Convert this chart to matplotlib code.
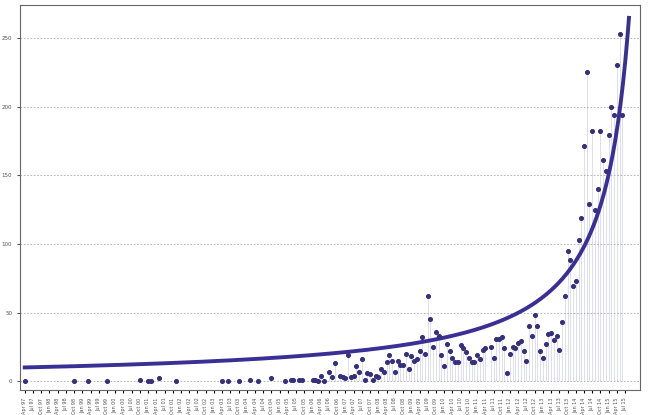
import numpy as np
import matplotlib.pyplot as plt

# month index (0 = Apr 97) and monthly count
months = [0, 18, 23, 30, 42, 45, 46, 49, 55, 72, 74, 78, 82, 85, 90,
          95, 97, 98, 100, 101, 105, 106, 107, 108, 109, 111, 112, 113, 115, 116, 117, 118,
          119, 120, 121, 122, 123, 124, 125, 126, 127, 128, 129, 130, 131, 132, 133, 134, 135,
          136, 137, 138, 139, 140, 141, 142, 143, 144, 145, 146, 147, 148, 149, 150, 151, 152,
          153, 154, 155, 156, 157, 158, 159, 160, 161, 162, 163, 164, 165, 166,
          167, 168, 170, 171, 172, 173, 174, 175, 176, 177, 178, 179, 180, 181, 182, 183,
          184, 185, 186, 187, 188, 189, 190, 191, 192, 193, 194, 195, 196, 197, 198, 199,
          200, 201, 202, 203, 204, 205, 206, 207, 208, 209, 210, 211, 212, 213, 214, 215,
          216, 217, 218]
counts = [0, 0, 0, 0, 1, 0, 0, 2, 0, 0, 0, 0, 1, 0, 2,
          0, 0.5, 1, 0.5, 0.5, 0.5, 0.5, 0, 4, 0, 7, 3, 13, 4, 3, 2, 19,
          3, 4, 11, 7, 16, 1, 6, 5, 1, 4, 3, 9, 7, 14, 19, 15, 7,
          15, 12, 12, 20, 9, 18, 15, 16, 22, 32, 20, 62, 45, 25, 36, 33, 19,
          11, 27, 22, 17, 14, 14, 26, 24, 21, 17, 14, 14, 19, 16,
          23, 24, 25, 17, 31, 31, 32, 24, 6, 20, 25, 24, 28, 29, 22, 15,
          40, 33, 48, 40, 22, 17, 27, 34, 35, 30, 33, 23, 43, 62, 95, 88,
          69, 73, 103, 119, 171, 225, 129, 182, 125, 140, 182, 161, 153, 179, 200, 194,
          230, 253, 194]

# fitted singular growth curve parameters
fit_a, fit_tc, fit_k = 10 * 231 ** 1.063, 231.0, 1.063

month_names = ['Apr', 'Jul', 'Oct', 'Jan']
tick_pos = list(range(0, 220, 3))
tick_labels = []
for i, p in enumerate(tick_pos):
    yr = 97 + (p + 3) // 12
    tick_labels.append('%s %02d' % (month_names[i % 4], yr % 100))

fig = plt.figure(figsize=(6.6, 4.15), dpi=100)
ax = fig.add_axes([0.03, 0.06, 0.94, 0.928])

ax.vlines(months, 0, counts, color='#d8d8ee', lw=0.6, zorder=1)
ax.scatter(months, counts, s=7, color='#35307a', zorder=3)

t = np.linspace(0, 220.4, 500)
ax.plot(t, fit_a / (fit_tc - t) ** fit_k, color='#3a2f95', lw=2.8, zorder=2)

ax.set_xlim(-1.8, 224.5)
ax.set_ylim(-6.5, 274)
ax.set_yticks([0, 50, 100, 150, 200, 250])
ax.tick_params(axis='y', labelsize=4, length=2, colors='#555555')
ax.set_xticks(tick_pos)
ax.set_xticklabels(tick_labels, rotation=90, fontsize=3.5, color='#555555')
ax.tick_params(axis='x', length=2)
ax.grid(axis='y', ls=(0, (2, 2)), color='#aaaaaa', lw=0.6)
for s in ax.spines.values():
    s.set_color('#666666')
    s.set_linewidth(0.8)

fig.savefig('out.png', dpi=100)
